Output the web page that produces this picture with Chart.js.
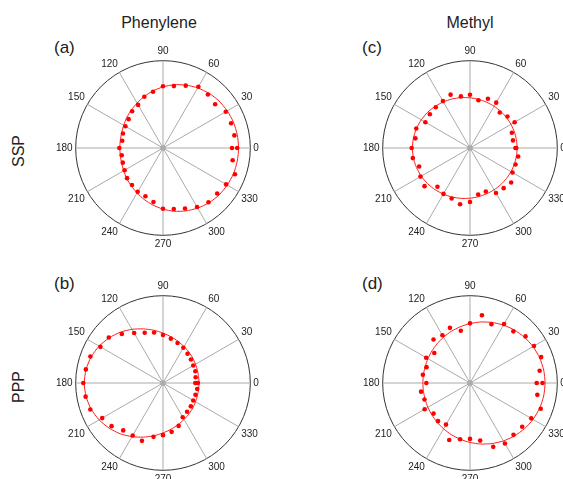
<!DOCTYPE html>
<html>
<head>
<meta charset="utf-8">
<script src="https://cdn.jsdelivr.net/npm/chart.js@4.4.1/dist/chart.umd.min.js"></script>
<style>
  body { margin: 0; background: #fff; font-family: "Liberation Sans", Arial, sans-serif; color: #222; }
  #page { position: relative; width: 563px; height: 479px; overflow: hidden; }
  canvas { position: absolute; }
  .txt { position: absolute; white-space: nowrap; }
  .col { font-size: 16px; transform: translateX(-50%); }
  .tag { font-size: 17px; }
  .row { font-size: 16px; transform: translate(-50%, -50%) rotate(-90deg); }
</style>
</head>
<body>
<div id="page">
  <div class="txt col" style="left:159px; top:14px;">Phenylene</div>
  <div class="txt col" style="left:470px; top:14px;">Methyl</div>
  <div class="txt row" style="left:19px; top:151px;">SSP</div>
  <div class="txt row" style="left:19px; top:387px;">PPP</div>
  <div class="txt tag" style="left:54px; top:38px;">(a)</div>
  <div class="txt tag" style="left:362px; top:38px;">(c)</div>
  <div class="txt tag" style="left:54px; top:274px;">(b)</div>
  <div class="txt tag" style="left:362px; top:274px;">(d)</div>
  <canvas id="plotA" width="214" height="214" style="left:51px; top:41px;"></canvas>
  <canvas id="plotC" width="214" height="214" style="left:358px; top:41px;"></canvas>
  <canvas id="plotB" width="214" height="214" style="left:51px; top:276px;"></canvas>
  <canvas id="plotD" width="214" height="214" style="left:358px; top:276px;"></canvas>
</div>
<script>
// polar angle in degrees, counter-clockwise from the 0 direction
const angles = [0, 10, 20, 30, 40, 50, 60, 70, 80, 90, 100, 110, 120, 130, 140, 150, 160, 170,
                180, 190, 200, 210, 220, 230, 240, 250, 260, 270, 280, 290, 300, 310, 320, 330, 340, 350];

// (a) SSP phenylene
const ssp_phenyl = [0.79, 0.83, 0.83, 0.83, 0.78, 0.80, 0.81, 0.76, 0.72, 0.707, 0.655, 0.625, 0.57, 0.55, 0.514, 0.497, 0.488, 0.474,
                    0.50, 0.48, 0.49, 0.508, 0.537, 0.553, 0.58, 0.588, 0.628, 0.695, 0.71, 0.737, 0.78, 0.81, 0.81, 0.834, 0.877, 0.81];
const ssp_phenyl_360 = 0.85;
const ssp_phenyl_fit = [0.866, 0.864, 0.860, 0.850, 0.838, 0.819, 0.795, 0.767, 0.736, 0.700, 0.664, 0.628, 0.595, 0.566, 0.543, 0.520, 0.505, 0.497,
                        0.494, 0.497, 0.505, 0.520, 0.543, 0.566, 0.595, 0.628, 0.664, 0.700, 0.736, 0.767, 0.795, 0.819, 0.838, 0.850, 0.860, 0.864];

// (b) PPP phenylene
const ppp_phenyl = [0.40, 0.38, 0.394, 0.40, 0.418, 0.437, 0.466, 0.487, 0.516, 0.55, 0.587, 0.613, 0.661, 0.733, 0.81, 0.828, 0.885, 0.897,
                    0.913, 0.90, 0.886, 0.804, 0.769, 0.709, 0.694, 0.705, 0.626, 0.597, 0.568, 0.523, 0.452, 0.429, 0.416, 0.40, 0.396, 0.398];
const ppp_phenyl_360 = 0.37;
const ppp_phenyl_fit = [0.412, 0.414, 0.420, 0.430, 0.445, 0.462, 0.482, 0.507, 0.537, 0.572, 0.614, 0.660, 0.710, 0.760, 0.805, 0.845, 0.876, 0.895,
                        0.902, 0.895, 0.876, 0.845, 0.805, 0.760, 0.710, 0.660, 0.614, 0.572, 0.537, 0.507, 0.482, 0.462, 0.445, 0.430, 0.420, 0.414];

// (c) SSP methyl
const ssp_methyl = [0.52, 0.50, 0.51, 0.59, 0.56, 0.53, 0.60, 0.60, 0.555, 0.61, 0.60, 0.65, 0.62, 0.61, 0.60, 0.59, 0.655, 0.635,
                    0.668, 0.665, 0.62, 0.655, 0.68, 0.58, 0.607, 0.615, 0.655, 0.618, 0.54, 0.53, 0.595, 0.60, 0.615, 0.562, 0.555, 0.56];
const ssp_methyl_360 = 0.53;
const ssp_methyl_fit = [0.540, 0.540, 0.541, 0.542, 0.544, 0.548, 0.552, 0.558, 0.566, 0.575, 0.586, 0.598, 0.610, 0.623, 0.635, 0.645, 0.653, 0.658,
                        0.660, 0.658, 0.653, 0.645, 0.635, 0.623, 0.610, 0.598, 0.586, 0.575, 0.566, 0.558, 0.552, 0.548, 0.544, 0.542, 0.541, 0.540];

// (d) PPP methyl
const ppp_methyl = [0.764, 0.81, 0.867, 0.846, 0.83, 0.772, 0.779, 0.717, 0.788, 0.683, 0.607, 0.672, 0.632, 0.65, 0.534, 0.58, 0.53, 0.548,
                    0.50, 0.569, 0.555, 0.60, 0.545, 0.57, 0.55, 0.695, 0.654, 0.64, 0.67, 0.778, 0.80, 0.775, 0.78, 0.81, 0.862, 0.783];
const ppp_methyl_360 = 0.83;
const ppp_methyl_fit = [0.860, 0.857, 0.848, 0.834, 0.815, 0.792, 0.766, 0.738, 0.710, 0.681, 0.654, 0.629, 0.606, 0.586, 0.570, 0.557, 0.547, 0.542,
                        0.540, 0.542, 0.547, 0.557, 0.570, 0.586, 0.606, 0.629, 0.654, 0.681, 0.710, 0.738, 0.766, 0.792, 0.815, 0.834, 0.848, 0.857];

// radar goes clockwise, so flip the order to get counter-clockwise angles
const ccw = arr => arr.map((v, i) => arr[(arr.length - i) % arr.length]);

const dots = data => ({
    data: data, showLine: false, fill: false, backgroundColor: 'rgba(0,0,0,0)',
    pointRadius: 2.3, pointBackgroundColor: '#ff0000', pointBorderWidth: 0, borderColor: '#ff0000'
});

const makePolar = (id, pts, p360, fit) => {
    const onlyFirst = angles.map((a, i) => (i === 0 ? p360 : null));
    new Chart(document.getElementById(id), {
        type: 'radar',
        data: {
            labels: ccw(angles),
            datasets: [
                dots(ccw(pts)),
                dots(onlyFirst),
                { data: ccw(fit), pointRadius: 0, borderColor: '#ff2020', backgroundColor: 'rgba(0,0,0,0)', borderWidth: 1, fill: false, tension: 0.2 }
            ]
        },
        options: {
            responsive: false,
            animation: false,
            devicePixelRatio: 1,
            plugins: { legend: { display: false }, tooltip: { enabled: false } },
            scales: {
                r: {
                    min: 0,
                    max: 1,
                    startAngle: 90,
                    afterBuildTicks: scale => { scale.ticks = [{ value: 0 }, { value: 0.025 }, { value: 1 }]; },
                    ticks: { display: false },
                    grid: {
                        circular: true,
                        color: ctx => (ctx.tick && ctx.tick.value >= 1 ? '#333' : '#888'),
                        lineWidth: 1
                    },
                    angleLines: {
                        color: ctx => (ctx.index % 3 === 0 ? '#aaa' : 'rgba(0,0,0,0)'),
                        lineWidth: 1
                    },
                    pointLabels: {
                        padding: 3,
                        color: '#222',
                        font: { family: '"Liberation Sans", Arial, sans-serif', size: 10 },
                        callback: label => (label % 30 === 0 ? String(label) : '')
                    }
                }
            }
        }
    });
};

makePolar('plotA', ssp_phenyl, ssp_phenyl_360, ssp_phenyl_fit);
makePolar('plotB', ppp_phenyl, ppp_phenyl_360, ppp_phenyl_fit);
makePolar('plotC', ssp_methyl, ssp_methyl_360, ssp_methyl_fit);
makePolar('plotD', ppp_methyl, ppp_methyl_360, ppp_methyl_fit);
</script>
</body>
</html>
